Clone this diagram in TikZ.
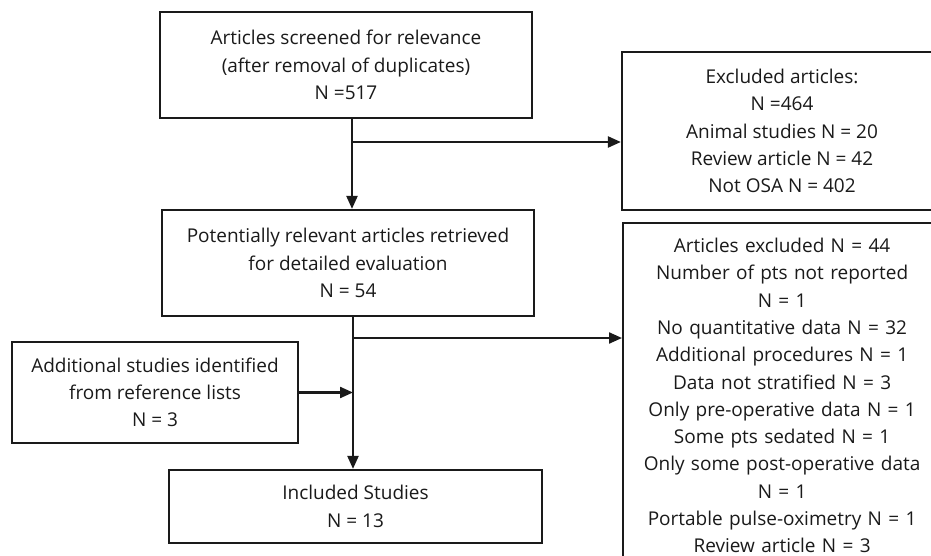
\documentclass[tikz,border=0pt]{standalone}
\usepackage{fontspec}
\setmainfont{Open Sans}
\usetikzlibrary{arrows.meta}
\definecolor{ink}{HTML}{1A1A1A}
\tikzset{
  box/.style={draw=ink, line width=2.2pt, rectangle, align=center, text=ink,
    font=\fontsize{19}{27.3}\selectfont, inner sep=0pt},
  arr/.style={draw=ink, line width=2.2pt, -{Triangle[length=13pt,width=11pt]}},
  ln/.style={draw=ink, line width=2.2pt}
}
\begin{document}
\begin{tikzpicture}[x=1pt,y=1pt]
\useasboundingbox (0,0) rectangle (931,-556);
\fill[white] (0,0) rectangle (931,-556);
\begin{scope}
\clip (0,0) rectangle (931,-556);
\node[box, minimum width=372pt, minimum height=106pt] (b1) at (346,-65)
  {Articles screened for relevance\\(after removal of duplicates)\\N =517};
\node[box, minimum width=320pt, minimum height=158pt] (b2) at (782,-131)
  {Excluded articles:\\N =464\\Animal studies N = 20\\Review article N = 42\\Not OSA N = 402};
\node[box, minimum width=372pt, minimum height=106pt] (b3) at (348,-263)
  {Potentially relevant articles retrieved\\for detailed evaluation\\N = 54};
\node[box, anchor=north west, text width=318pt, inner ysep=15pt] (b4) at (622,-222)
  {Articles excluded N = 44\\Number of pts not reported\\N = 1\\No quantitative data N = 32\\Additional procedures N = 1\\Data not stratified N = 3\\Only pre-operative data N = 1\\Some pts sedated N = 1\\Only some post-operative data\\N = 1\\Portable pulse-oximetry N = 1\\Review article N = 3};
\node[box, minimum width=286pt, minimum height=101pt] (b5) at (155,-392.5)
  {Additional studies identified\\from reference lists\\N = 3};
\node[box, minimum width=373pt, minimum height=73pt] (b6) at (355.5,-506.5)
  {Included Studies\\N = 13};
\coordinate (v1) at (352,-142);
\coordinate (v2) at (353,-338);
\draw[arr] (b1.south -| v1) -- (b3.north -| v1);
\draw[arr] (v1) -- (v1 -| b2.west);
\draw[arr] (b3.south -| v2) -- (b6.north -| v2);
\draw[arr] (v2) -- (v2 -| b4.west);
\draw[arr] (b5.east) -- (b5.east -| v2);
\end{scope}
\end{tikzpicture}
\end{document}
